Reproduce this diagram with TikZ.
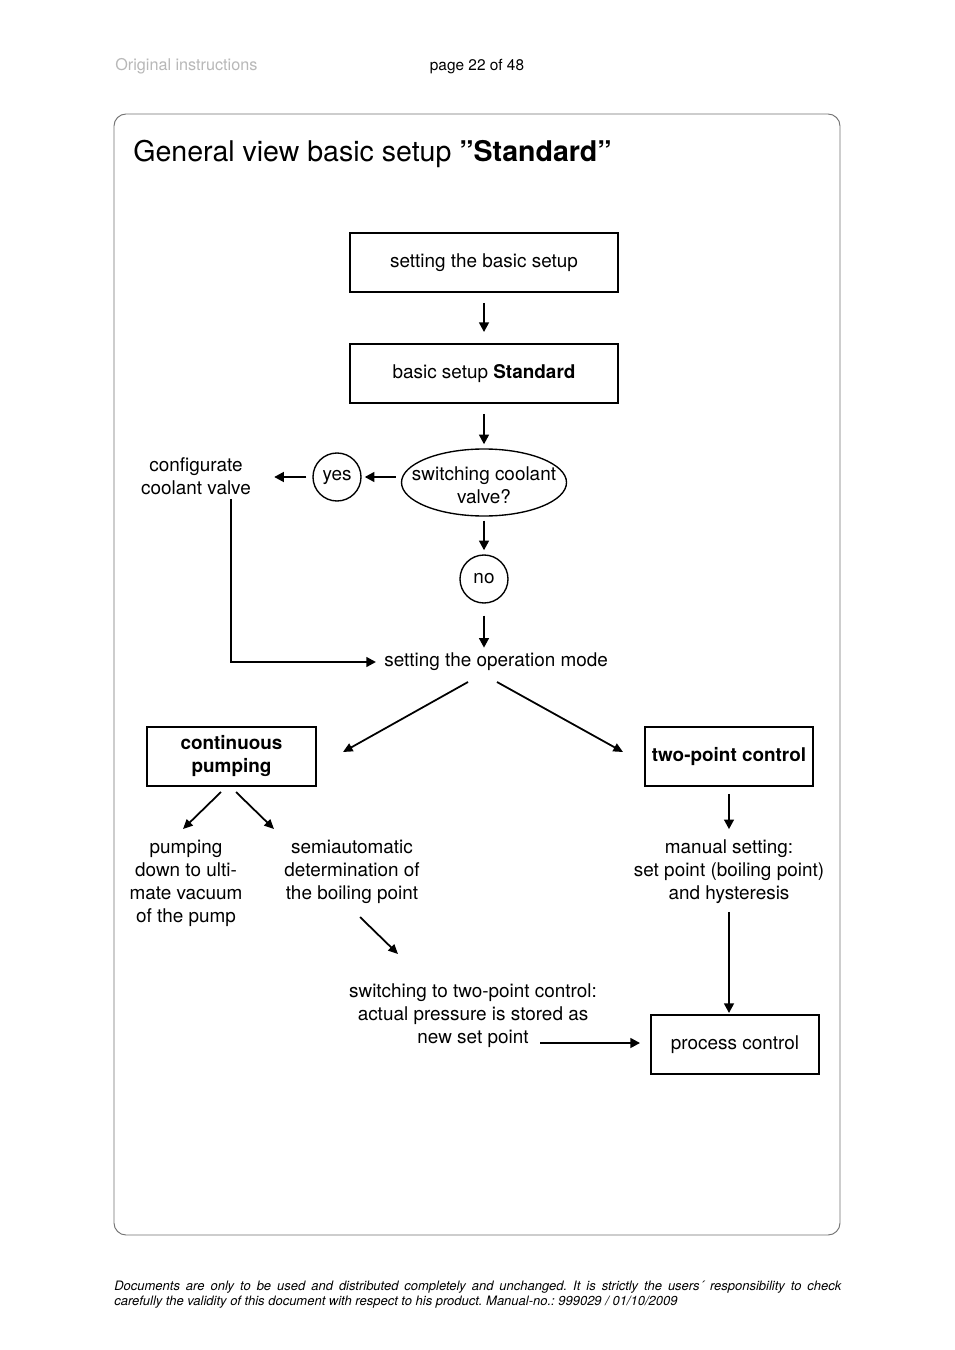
\documentclass[tikz,border=0pt]{standalone}
\usepackage{fontspec}
\setmainfont{TeX Gyre Heros}
\usetikzlibrary{arrows.meta,shapes.geometric}
\newcommand\pxu{0.6237pt}
\begin{document}
\begin{tikzpicture}[x=0.6237pt,y=-0.6237pt,
  bodyfont/.style={font=\fontsize{11.8}{14.35}\selectfont},
  txt/.style={bodyfont, inner sep=0pt, align=center},
  box/.style={draw, line width=1.15pt, minimum width=268*\pxu, minimum height=59*\pxu, inner sep=0pt, bodyfont, align=center},
  sbox/.style={box, minimum width=168*\pxu},
  arr/.style={-{Triangle[length=6pt,width=6pt]}, line width=1.4pt},
  darr/.style={-{Triangle[length=6pt,width=5.4pt]}, line width=1.1pt},
  circ/.style={draw, circle, line width=0.85pt, minimum size=48*\pxu, inner sep=0pt, bodyfont}]
\fill[white] (0,0) rectangle (954,1350);
\useasboundingbox (0,0) rectangle (954,1350);

% header
\node[anchor=base west, inner sep=0pt, text=black!28, font=\fontsize{10.1}{11}\selectfont] (hdl) at (115,71) {Original instructions};
\node[anchor=base, inner sep=0pt, font=\fontsize{9.6}{11}\selectfont] (hdp) at (477,71) {page 22 of 48};

% frame
\draw[black!55, line width=0.6pt, rounded corners=7.5pt] (114,114) rectangle (840,1235);

% title
\node[anchor=base west, inner sep=0pt, font=\fontsize{17.8}{20}\selectfont] (title) at (133,162) {General view basic setup \textbf{”Standard”}};

% boxes
\node[box] (b1) at (484,262.5) {setting the basic setup};
\node[box] (b2) at (484,373.5) {basic setup \textbf{Standard}};
\node[draw, ellipse, line width=0.85pt, minimum width=165*\pxu, minimum height=67*\pxu, inner sep=0pt] (ell) at (484,482.5) {};
\node[txt] (ellt) at (484,485) {switching coolant\\valve?};
\node[circ] (yes) at (337,477) {yes};
\node[txt] (conf) at (196,476) {configurate\\coolant valve};
\node[circ] (no) at (484,579) {no};
\node[txt, anchor=west] (opm) at (384,662) {setting the operation mode};

\node[sbox, minimum width=169*\pxu, font=\fontsize{11.8}{14.35}\selectfont\bfseries] (cp) at (231.5,756.5) {continuous\\pumping};
\node[sbox, font=\fontsize{11.8}{14.35}\selectfont\bfseries] (tp) at (729,756.5) {two-point control};

\node[txt] (pump) at (186,883) {pumping\\down to ulti-\\mate vacuum\\of the pump};
\node[txt] (semi) at (352,871.5) {semiautomatic\\determination of\\the boiling point};
\node[txt] (man) at (729,871.5) {manual setting:\\set point (boiling point)\\and hysteresis};
\node[txt] (sw) at (473,1016) {switching to two-point control:\\actual pressure is stored as\\new set point};
\node[sbox] (pc) at (735,1044.5) {process control};

% connectors
\draw[arr, shorten <=10*\pxu, shorten >=11*\pxu] (b1.south) -- (b2.north);
\draw[arr, shorten <=10*\pxu, shorten >=4*\pxu] (b2.south) -- (ell.north);
\draw[arr, shorten <=5*\pxu, shorten >=3*\pxu] (ell.west |- yes.center) -- (yes.east);
\draw[arr, shorten <=6*\pxu, shorten >=23*\pxu] (yes.west) -- (conf.east |- yes.center);
\draw[arr, shorten <=4*\pxu, shorten >=8*\pxu] ([xshift=35*\pxu]conf.south) |- (opm.west);
\draw[arr, shorten <=4*\pxu, shorten >=4*\pxu] (ell.south) -- (no.north);
\draw[arr, shorten <=12*\pxu, shorten >=5*\pxu] (no.south) -- (no.south |- opm.north);

\coordinate (dl1) at (468,682); \coordinate (dl2) at (343,752);
\coordinate (dr1) at (497,682); \coordinate (dr2) at (623,752);
\draw[darr] (dl1) -- (dl2);
\draw[darr] (dr1) -- (dr2);

\coordinate (cl1) at (221,792); \coordinate (cl2) at (183,829);
\coordinate (cr1) at (236,792); \coordinate (cr2) at (274,829);
\draw[darr] (cl1) -- (cl2);
\draw[darr] (cr1) -- (cr2);

\draw[arr, shorten <=7*\pxu, shorten >=10*\pxu] (tp.south) -- (tp.south |- man.north);
\draw[arr, shorten <=8*\pxu, shorten >=1*\pxu] (man.south) -- (man.south |- pc.north);

\coordinate (sa1) at (360,917); \coordinate (sa2) at (398,954);
\draw[darr] (sa1) -- (sa2);

\coordinate (sp1) at (540,1043);
\draw[arr, shorten >=10*\pxu] (sp1) -- (pc.west |- sp1);

% footer
\node[anchor=north west, inner sep=0pt, text width=727*\pxu, align=justify, font=\frenchspacing\fontsize{8.1}{9.4}\selectfont\itshape] (foot) at (114,1280.5)
 {Documents are only to be used and distributed completely and unchanged. It is strictly the users´ responsibility to check\linebreak carefully the validity of this document with respect to his product. Manual-no.: 999029 / 01/10/2009};
\end{tikzpicture}
\end{document}
